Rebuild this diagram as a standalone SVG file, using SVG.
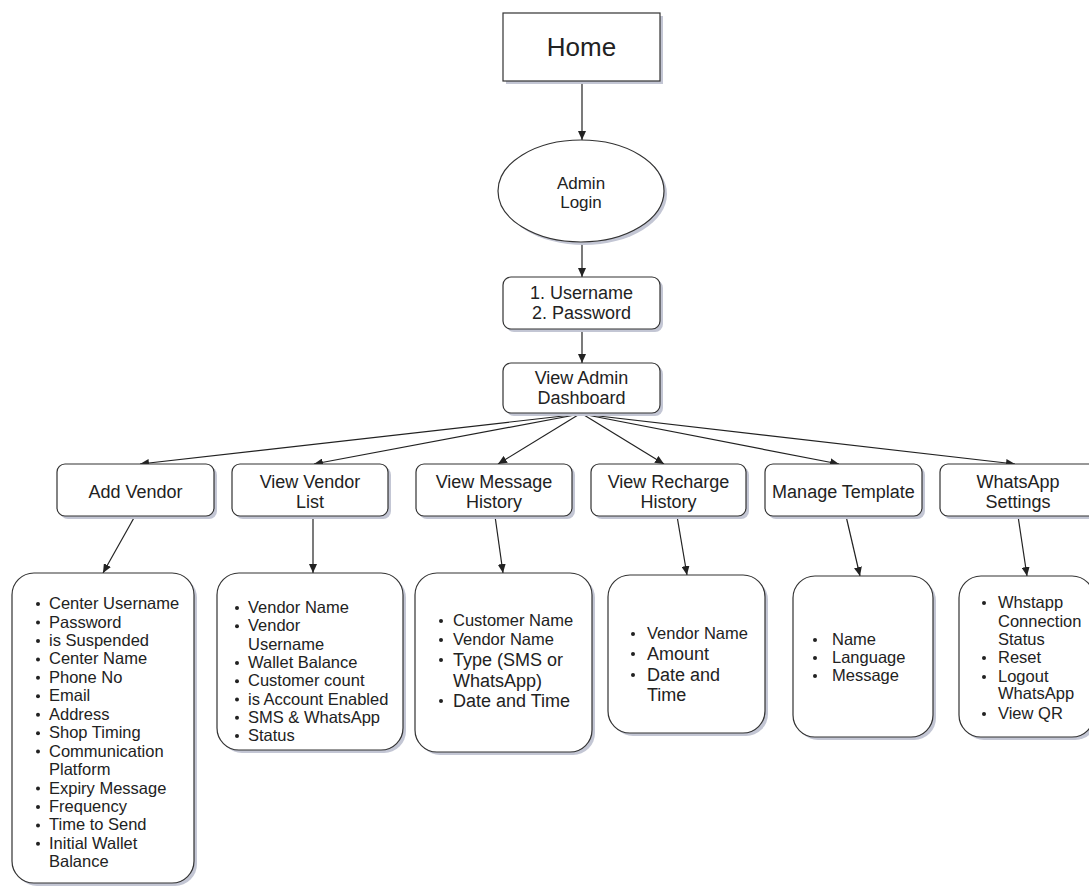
<svg xmlns="http://www.w3.org/2000/svg" width="1089" height="886" viewBox="0 0 1089 886">
<style>
.shape{fill:#fff;stroke:#333;stroke-width:1.2}
.shadow{fill:#c3c6d4}
.t{font-family:"Liberation Sans",Arial,sans-serif;fill:#222}
.c{text-anchor:middle}
.s{font-size:16.5px}
.m{font-size:18px}
.conn{fill:none;stroke:#222;stroke-width:1.2;marker-end:url(#ah)}
.b{fill:#222}
</style>
<defs>
<marker id="ah" markerUnits="userSpaceOnUse" markerWidth="9" markerHeight="8" refX="9" refY="4" orient="auto">
<path d="M0,0 L9,4 L0,8 z" fill="#222"/>
</marker>
</defs>
<rect width="1089" height="886" fill="#fff"/>

<g id="connectors">
<line class="conn" x1="582" y1="81" x2="582" y2="140"/>
<line class="conn" x1="582" y1="242" x2="582" y2="277"/>
<line class="conn" x1="582" y1="329" x2="582" y2="363"/>
<line class="conn" x1="572" y1="415" x2="140" y2="464"/>
<line class="conn" x1="575" y1="415" x2="314" y2="464"/>
<line class="conn" x1="578" y1="415" x2="498" y2="464"/>
<line class="conn" x1="584" y1="415" x2="664" y2="464"/>
<line class="conn" x1="587" y1="415" x2="839" y2="464"/>
<line class="conn" x1="590" y1="415" x2="1015" y2="464"/>
<line class="conn" x1="135" y1="516" x2="103" y2="573"/>
<line class="conn" x1="313" y1="516" x2="313" y2="573"/>
<line class="conn" x1="495" y1="516" x2="503" y2="573"/>
<line class="conn" x1="677" y1="516" x2="687" y2="575"/>
<line class="conn" x1="846" y1="516" x2="860" y2="576"/>
<line class="conn" x1="1018" y1="516" x2="1027" y2="576"/>
</g>

<g id="home">
<rect class="shadow" x="506" y="16" width="157" height="68"/>
<rect class="shape" x="503" y="13" width="157" height="68"/>
<text class="t c" x="581.5" y="56" font-size="26">Home</text>
</g>

<g id="admin-login">
<ellipse class="shadow" cx="584" cy="194" rx="83" ry="51"/>
<ellipse class="shape" cx="581" cy="191" rx="83" ry="51"/>
<text class="t c" x="581" y="189" font-size="17">Admin</text>
<text class="t c" x="581" y="208" font-size="17">Login</text>
</g>

<g id="credentials">
<rect class="shadow" x="506" y="280" width="157" height="52" rx="8"/>
<rect class="shape" x="503" y="277" width="157" height="52" rx="8"/>
<text class="t c m" x="581.5" y="299">1. Username</text>
<text class="t c m" x="581.5" y="319">2. Password</text>
</g>

<g id="dashboard">
<rect class="shadow" x="506" y="366" width="157" height="50" rx="8"/>
<rect class="shape" x="503" y="363" width="157" height="50" rx="8"/>
<text class="t c m" x="581.5" y="384">View Admin</text>
<text class="t c m" x="581.5" y="404">Dashboard</text>
</g>

<g id="add-vendor">
<rect class="shadow" x="60" y="467" width="157" height="52" rx="8"/>
<rect class="shape" x="57" y="464" width="157" height="52" rx="8"/>
<text class="t c m" x="135.5" y="498">Add Vendor</text>
</g>

<g id="view-vendor-list">
<rect class="shadow" x="235" y="467" width="156" height="52" rx="8"/>
<rect class="shape" x="232" y="464" width="156" height="52" rx="8"/>
<text class="t c m" x="310" y="488">View Vendor</text>
<text class="t c m" x="310" y="508">List</text>
</g>

<g id="view-message-history">
<rect class="shadow" x="419" y="467" width="156" height="52" rx="8"/>
<rect class="shape" x="416" y="464" width="156" height="52" rx="8"/>
<text class="t c m" x="494" y="488">View Message</text>
<text class="t c m" x="494" y="508">History</text>
</g>

<g id="view-recharge-history">
<rect class="shadow" x="594" y="467" width="155" height="52" rx="8"/>
<rect class="shape" x="591" y="464" width="155" height="52" rx="8"/>
<text class="t c m" x="668.5" y="488">View Recharge</text>
<text class="t c m" x="668.5" y="508">History</text>
</g>

<g id="manage-template">
<rect class="shadow" x="768" y="467" width="157" height="52" rx="8"/>
<rect class="shape" x="765" y="464" width="157" height="52" rx="8"/>
<text class="t c m" x="843.5" y="498">Manage Template</text>
</g>

<g id="whatsapp-settings">
<rect class="shadow" x="943" y="467" width="157" height="52" rx="8"/>
<rect class="shape" x="940" y="464" width="157" height="52" rx="8"/>
<text class="t c m" x="1018" y="488">WhatsApp</text>
<text class="t c m" x="1018" y="508">Settings</text>
</g>

<g id="add-vendor-details">
<rect class="shadow" x="15" y="576" width="182" height="310" rx="22"/>
<rect class="shape" x="12" y="573" width="182" height="310" rx="22"/>
<g class="b">
<circle cx="38" cy="604" r="2"/><circle cx="38" cy="622.5" r="2"/><circle cx="38" cy="641" r="2"/><circle cx="38" cy="659.4" r="2"/><circle cx="38" cy="677.8" r="2"/><circle cx="38" cy="696.3" r="2"/><circle cx="38" cy="714.7" r="2"/><circle cx="38" cy="733.2" r="2"/><circle cx="38" cy="751.6" r="2"/><circle cx="38" cy="788.5" r="2"/><circle cx="38" cy="807" r="2"/><circle cx="38" cy="825.4" r="2"/><circle cx="38" cy="843.8" r="2"/>
</g>
<g class="t s">
<text x="49" y="609">Center Username</text>
<text x="49" y="627.5">Password</text>
<text x="49" y="646">is Suspended</text>
<text x="49" y="664.4">Center Name</text>
<text x="49" y="682.8">Phone No</text>
<text x="49" y="701.3">Email</text>
<text x="49" y="719.7">Address</text>
<text x="49" y="738.2">Shop Timing</text>
<text x="49" y="756.6">Communication</text>
<text x="49" y="775">Platform</text>
<text x="49" y="793.5">Expiry Message</text>
<text x="49" y="812">Frequency</text>
<text x="49" y="830.4">Time to Send</text>
<text x="49" y="848.8">Initial Wallet</text>
<text x="49" y="867.3">Balance</text>
</g>
</g>

<g id="vendor-list-details">
<rect class="shadow" x="220" y="576" width="186" height="177" rx="22"/>
<rect class="shape" x="217" y="573" width="186" height="177" rx="22"/>
<g class="b">
<circle cx="237" cy="608" r="2"/><circle cx="237" cy="626.3" r="2"/><circle cx="237" cy="663" r="2"/><circle cx="237" cy="681.2" r="2"/><circle cx="237" cy="699.5" r="2"/><circle cx="237" cy="717.8" r="2"/><circle cx="237" cy="736" r="2"/>
</g>
<g class="t s">
<text x="248" y="613">Vendor Name</text>
<text x="248" y="631.3">Vendor</text>
<text x="248" y="649.6">Username</text>
<text x="248" y="668">Wallet Balance</text>
<text x="248" y="686.2">Customer count</text>
<text x="248" y="704.5">is Account Enabled</text>
<text x="248" y="722.8">SMS &amp; WhatsApp</text>
<text x="248" y="741">Status</text>
</g>
</g>

<g id="message-history-details">
<rect class="shadow" x="418" y="576" width="177" height="179" rx="22"/>
<rect class="shape" x="415" y="573" width="177" height="179" rx="22"/>
<g class="b">
<circle cx="441" cy="621" r="2"/><circle cx="441" cy="640" r="2"/><circle cx="441" cy="660" r="2"/><circle cx="441" cy="701" r="2"/>
</g>
<text class="t s" x="453" y="626">Customer Name</text>
<text class="t s" x="453" y="645">Vendor Name</text>
<text class="t m" x="453" y="666">Type (SMS or</text>
<text class="t m" x="453" y="687">WhatsApp)</text>
<text class="t m" x="453" y="707">Date and Time</text>
</g>

<g id="recharge-history-details">
<rect class="shadow" x="611" y="578" width="157" height="158" rx="22"/>
<rect class="shape" x="608" y="575" width="157" height="158" rx="22"/>
<g class="b">
<circle cx="633" cy="634" r="2"/><circle cx="633" cy="654" r="2"/><circle cx="633" cy="675" r="2"/>
</g>
<text class="t s" x="647" y="639">Vendor Name</text>
<text class="t m" x="647" y="660">Amount</text>
<text class="t m" x="647" y="681">Date and</text>
<text class="t m" x="647" y="701">Time</text>
</g>

<g id="template-details">
<rect class="shadow" x="796" y="579" width="140" height="161" rx="22"/>
<rect class="shape" x="793" y="576" width="140" height="161" rx="22"/>
<g class="b">
<circle cx="815" cy="640" r="2"/><circle cx="815" cy="658" r="2"/><circle cx="815" cy="676" r="2"/>
</g>
<g class="t s">
<text x="832" y="645">Name</text>
<text x="832" y="663">Language</text>
<text x="832" y="681">Message</text>
</g>
</g>

<g id="whatsapp-details">
<rect class="shadow" x="962" y="579" width="135" height="161" rx="22"/>
<rect class="shape" x="959" y="576" width="135" height="161" rx="22"/>
<g class="b">
<circle cx="984" cy="603" r="2"/><circle cx="984" cy="658" r="2"/><circle cx="984" cy="677" r="2"/><circle cx="984" cy="714" r="2"/>
</g>
<g class="t s">
<text x="998" y="608">Whstapp</text>
<text x="998" y="627">Connection</text>
<text x="998" y="645">Status</text>
<text x="998" y="663">Reset</text>
<text x="998" y="682">Logout</text>
<text x="998" y="699">WhatsApp</text>
<text x="998" y="719">View QR</text>
</g>
</g>
</svg>
